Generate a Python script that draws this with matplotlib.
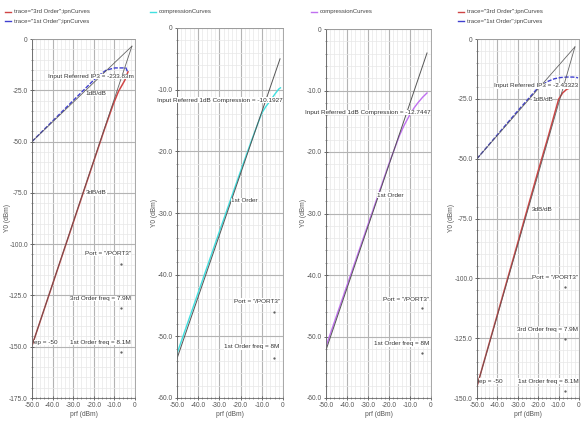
import numpy as np
import matplotlib
matplotlib.use("Agg")
from matplotlib import pyplot as plt
from matplotlib.ticker import MultipleLocator, FuncFormatter

plt.rcParams['font.family'] = ['Liberation Sans', 'DejaVu Sans']

# ---- panel 1 : IP3 curves (IP3 = -233.83m)
p1_x1 = [-50, -40, -30, -20, -17, -14, -11, -9.7, -7, -4.4, -3.6]
p1_y1 = [-50, -40, -30, -20, -17.4, -15.2, -14.4, -14.1, -14.1, -14.1, -16.0]
p1_x3 = [-50, -40, -30, -20, -15, -10.7, -8, -6, -4.9, -3.4]
p1_y3 = [-149.5, -119.5, -89.5, -59.5, -44.5, -32.2, -25.5, -22.0, -20.0, -16.0]
p1_ext_x = [-50, -1.5]
p1_ext1 = [-50, -3.5]
p1_ext3 = [-149.5, -3.5]

# ---- panel 2 : compression curve (-10.1927)
p2_x = [-50, -40, -30, -20, -15, -12, -10, -8, -6, -4, -2, -1.2]
p2_y = [-52.8, -42.9, -33.0, -23.2, -18.4, -15.6, -13.8, -12.7, -11.8, -10.8, -9.9, -9.7]
p2_ext_x = [-50, -1.4]
p2_ext_y = [-53.6, -5.0]

# ---- panel 3 : compression curve (-12.7447)
p3_x = [-50, -40, -30, -20, -15, -12.7, -10, -8, -6, -4, -1.9]
p3_y = [-51.6, -41.7, -31.8, -21.9, -17.3, -15.6, -13.9, -12.8, -11.9, -11.1, -10.4]
p3_ext_x = [-50, -1.9]
p3_ext_y = [-52.2, -3.9]

# ---- panel 4 : IP3 curves (IP3 = -2.43323)
p4_x1 = [-50, -40, -30, -20, -17, -15, -12, -9, -6, -3, -1, -0.5]
p4_y1 = [-50, -40, -30, -20.3, -18.6, -17.6, -16.6, -16.1, -15.9, -15.9, -16.1, -16.3]
p4_x3 = [-50, -40, -30, -20, -15, -12, -10, -8, -6, -4, -2, -0.5]
p4_y3 = [-145.1, -115.1, -85.1, -55.1, -40.5, -31.3, -25.2, -22.5, -21.0, -20.3, -20.0, -20.0]
p4_ext_x = [-50, -2.0]
p4_ext1 = [-50, -3.3]
p4_ext3 = [-145.1, -3.3]

W, H = 585, 424
fig = plt.figure(figsize=(W / 100, H / 100), dpi=100)
fig.patch.set_facecolor('white')

FS = 4.6


def px_axes(left, top, right, bottom):
    return fig.add_axes([left / W, 1 - bottom / H, (right - left) / W, (bottom - top) / H])


def fmt(v, pos):
    return '0' if abs(v) < 1e-9 else f'{v:.1f}'


def style(ax, ymin, ymajor, yminor, ylab_x):
    ax.set_xlim(-50, 0)
    ax.set_ylim(ymin, 0)
    ax.xaxis.set_major_locator(MultipleLocator(10))
    ax.xaxis.set_minor_locator(MultipleLocator(2))
    ax.yaxis.set_major_locator(MultipleLocator(ymajor))
    ax.yaxis.set_minor_locator(MultipleLocator(yminor))
    ax.xaxis.set_major_formatter(FuncFormatter(fmt))
    ax.yaxis.set_major_formatter(FuncFormatter(fmt))
    ax.grid(which='major', color='#b4b4b4', lw=0.8)
    ax.grid(which='minor', color='#e8e8e8', lw=0.5)
    ax.set_axisbelow(True)
    ax.tick_params(which='both', labelsize=FS + 0.2, colors='#555555', direction='inout', pad=1.5)
    ax.tick_params(which='major', length=3, width=0.6)
    ax.tick_params(which='minor', length=1.5, width=0.4)
    for s in ax.spines.values():
        s.set_color('#999999')
        s.set_linewidth(0.6)
    ax.spines['left'].set_color('#666666')
    ax.spines['bottom'].set_color('#666666')
    ax.set_xlabel('prf (dBm)', fontsize=FS + 0.2, color='#555555', labelpad=1.5)
    ax.set_ylabel('Y0 (dBm)', fontsize=FS + 0.2, color='#555555')
    ax.yaxis.set_label_coords(ylab_x, 0.5)


def label(ax, x, y, s, ha='left'):
    ax.text(x, y, s, fontsize=FS, color='#333333', ha=ha, va='center',
            bbox=dict(fc='white', ec='none', pad=0.2), zorder=5)


def dot(ax, x, y):
    ax.plot([x], [y], marker='.', ms=1.2, color='#555555', zorder=6)


def legend(x, y, color, text):
    fig.lines.append(plt.Line2D([x / W, (x + 6) / W], [1 - y / H] * 2, color=color, lw=1.0,
                                transform=fig.transFigure))
    fig.text((x + 9) / W, 1 - y / H, text, fontsize=FS - 0.3, color='#444444', va='center')


red, blue, grey = '#d04545', '#4040d0', '#555555'

# panel 1
ax1 = px_axes(32, 39, 135, 398)
style(ax1, -175, 25, 5, -0.2)
ax1.plot(p1_x3, p1_y3, color=red, lw=1.1)
ax1.plot(p1_x1, p1_y1, color=blue, lw=1.0, ls=(0, (3, 1.2)))
ax1.plot(p1_ext_x, p1_ext1, color=grey, lw=0.6, alpha=0.9)
ax1.plot(p1_ext_x, p1_ext3, color=grey, lw=0.6, alpha=0.9)
label(ax1, -0.5, -18.3, 'Input Referred IP3 = -233.83m', ha='right')
label(ax1, -24, -26.5, '1dB/dB')
label(ax1, -24, -75, '3dB/dB')
label(ax1, -2, -104.5, 'Port = "/PORT3"', ha='right')
label(ax1, -2, -126.5, '3rd Order freq = 7.9M', ha='right')
label(ax1, -2.3, -148, '1st Order freq = 8.1M', ha='right')
label(ax1, -49, -148, 'ep = -50')
dot(ax1, -6.8, -109.5)
dot(ax1, -6.8, -131)
dot(ax1, -6.8, -152.5)
legend(5, 12, red, 'trace="3rd Order";ipnCurves')
legend(5, 21, blue, 'trace="1st Order";ipnCurves')

# panel 2
ax2 = px_axes(177, 28, 283, 398)
style(ax2, -60, 10, 2, -0.18)
ax2.plot(p2_x, p2_y, color='#40e0e0', lw=1.0)
ax2.plot(p2_ext_x, p2_ext_y, color=grey, lw=0.7)
label(ax2, -0.4, -11.7, 'Input Referred 1dB Compression = -10.1927', ha='right')
label(ax2, -24.5, -28.0, '1st Order')
label(ax2, -1.5, -44.3, 'Port = "/PORT3"', ha='right')
label(ax2, -1.5, -51.7, '1st Order freq = 8M', ha='right')
dot(ax2, -4.4, -46.0)
dot(ax2, -4.4, -53.5)
legend(150, 12, '#40e0e0', 'compressionCurves')

# panel 3
ax3 = px_axes(326, 29, 431, 398)
style(ax3, -60, 10, 2, -0.18)
ax3.plot(p3_x, p3_y, color='#c070f0', lw=1.0)
ax3.plot(p3_ext_x, p3_ext_y, color=grey, lw=0.7)
label(ax3, -0.4, -13.6, 'Input Referred 1dB Compression = -12.7447', ha='right')
label(ax3, -25.5, -27.0, '1st Order')
label(ax3, -1.0, -44.0, 'Port = "/PORT3"', ha='right')
label(ax3, -1.0, -51.2, '1st Order freq = 8M', ha='right')
dot(ax3, -4.3, -45.4)
dot(ax3, -4.3, -52.7)
legend(311, 12, '#c070f0', 'compressionCurves')

# panel 4
ax4 = px_axes(477, 39, 579, 398)
style(ax4, -150, 25, 5, -0.22)
ax4.plot(p4_x3, p4_y3, color=red, lw=1.1)
ax4.plot(p4_x1, p4_y1, color=blue, lw=1.0, ls=(0, (3, 1.2)))
ax4.plot(p4_ext_x, p4_ext1, color=grey, lw=0.6, alpha=0.9)
ax4.plot(p4_ext_x, p4_ext3, color=grey, lw=0.6, alpha=0.9)
label(ax4, -0.2, -19.6, 'Input Referred IP3 = -2.43323', ha='right')
label(ax4, -23, -25.3, '1dB/dB')
label(ax4, -23, -71.3, '3dB/dB')
label(ax4, -0.3, -99.5, 'Port = "/PORT3"', ha='right')
label(ax4, -0.3, -121.5, '3rd Order freq = 7.9M', ha='right')
label(ax4, -0.3, -143, '1st Order freq = 8.1M', ha='right')
label(ax4, -49, -143, 'ep = -50')
dot(ax4, -6.8, -103.5)
dot(ax4, -6.8, -125.5)
dot(ax4, -6.8, -147)
legend(458, 12, red, 'trace="3rd Order";ipnCurves')
legend(458, 21, blue, 'trace="1st Order";ipnCurves')

fig.savefig('out.png', dpi=100)
